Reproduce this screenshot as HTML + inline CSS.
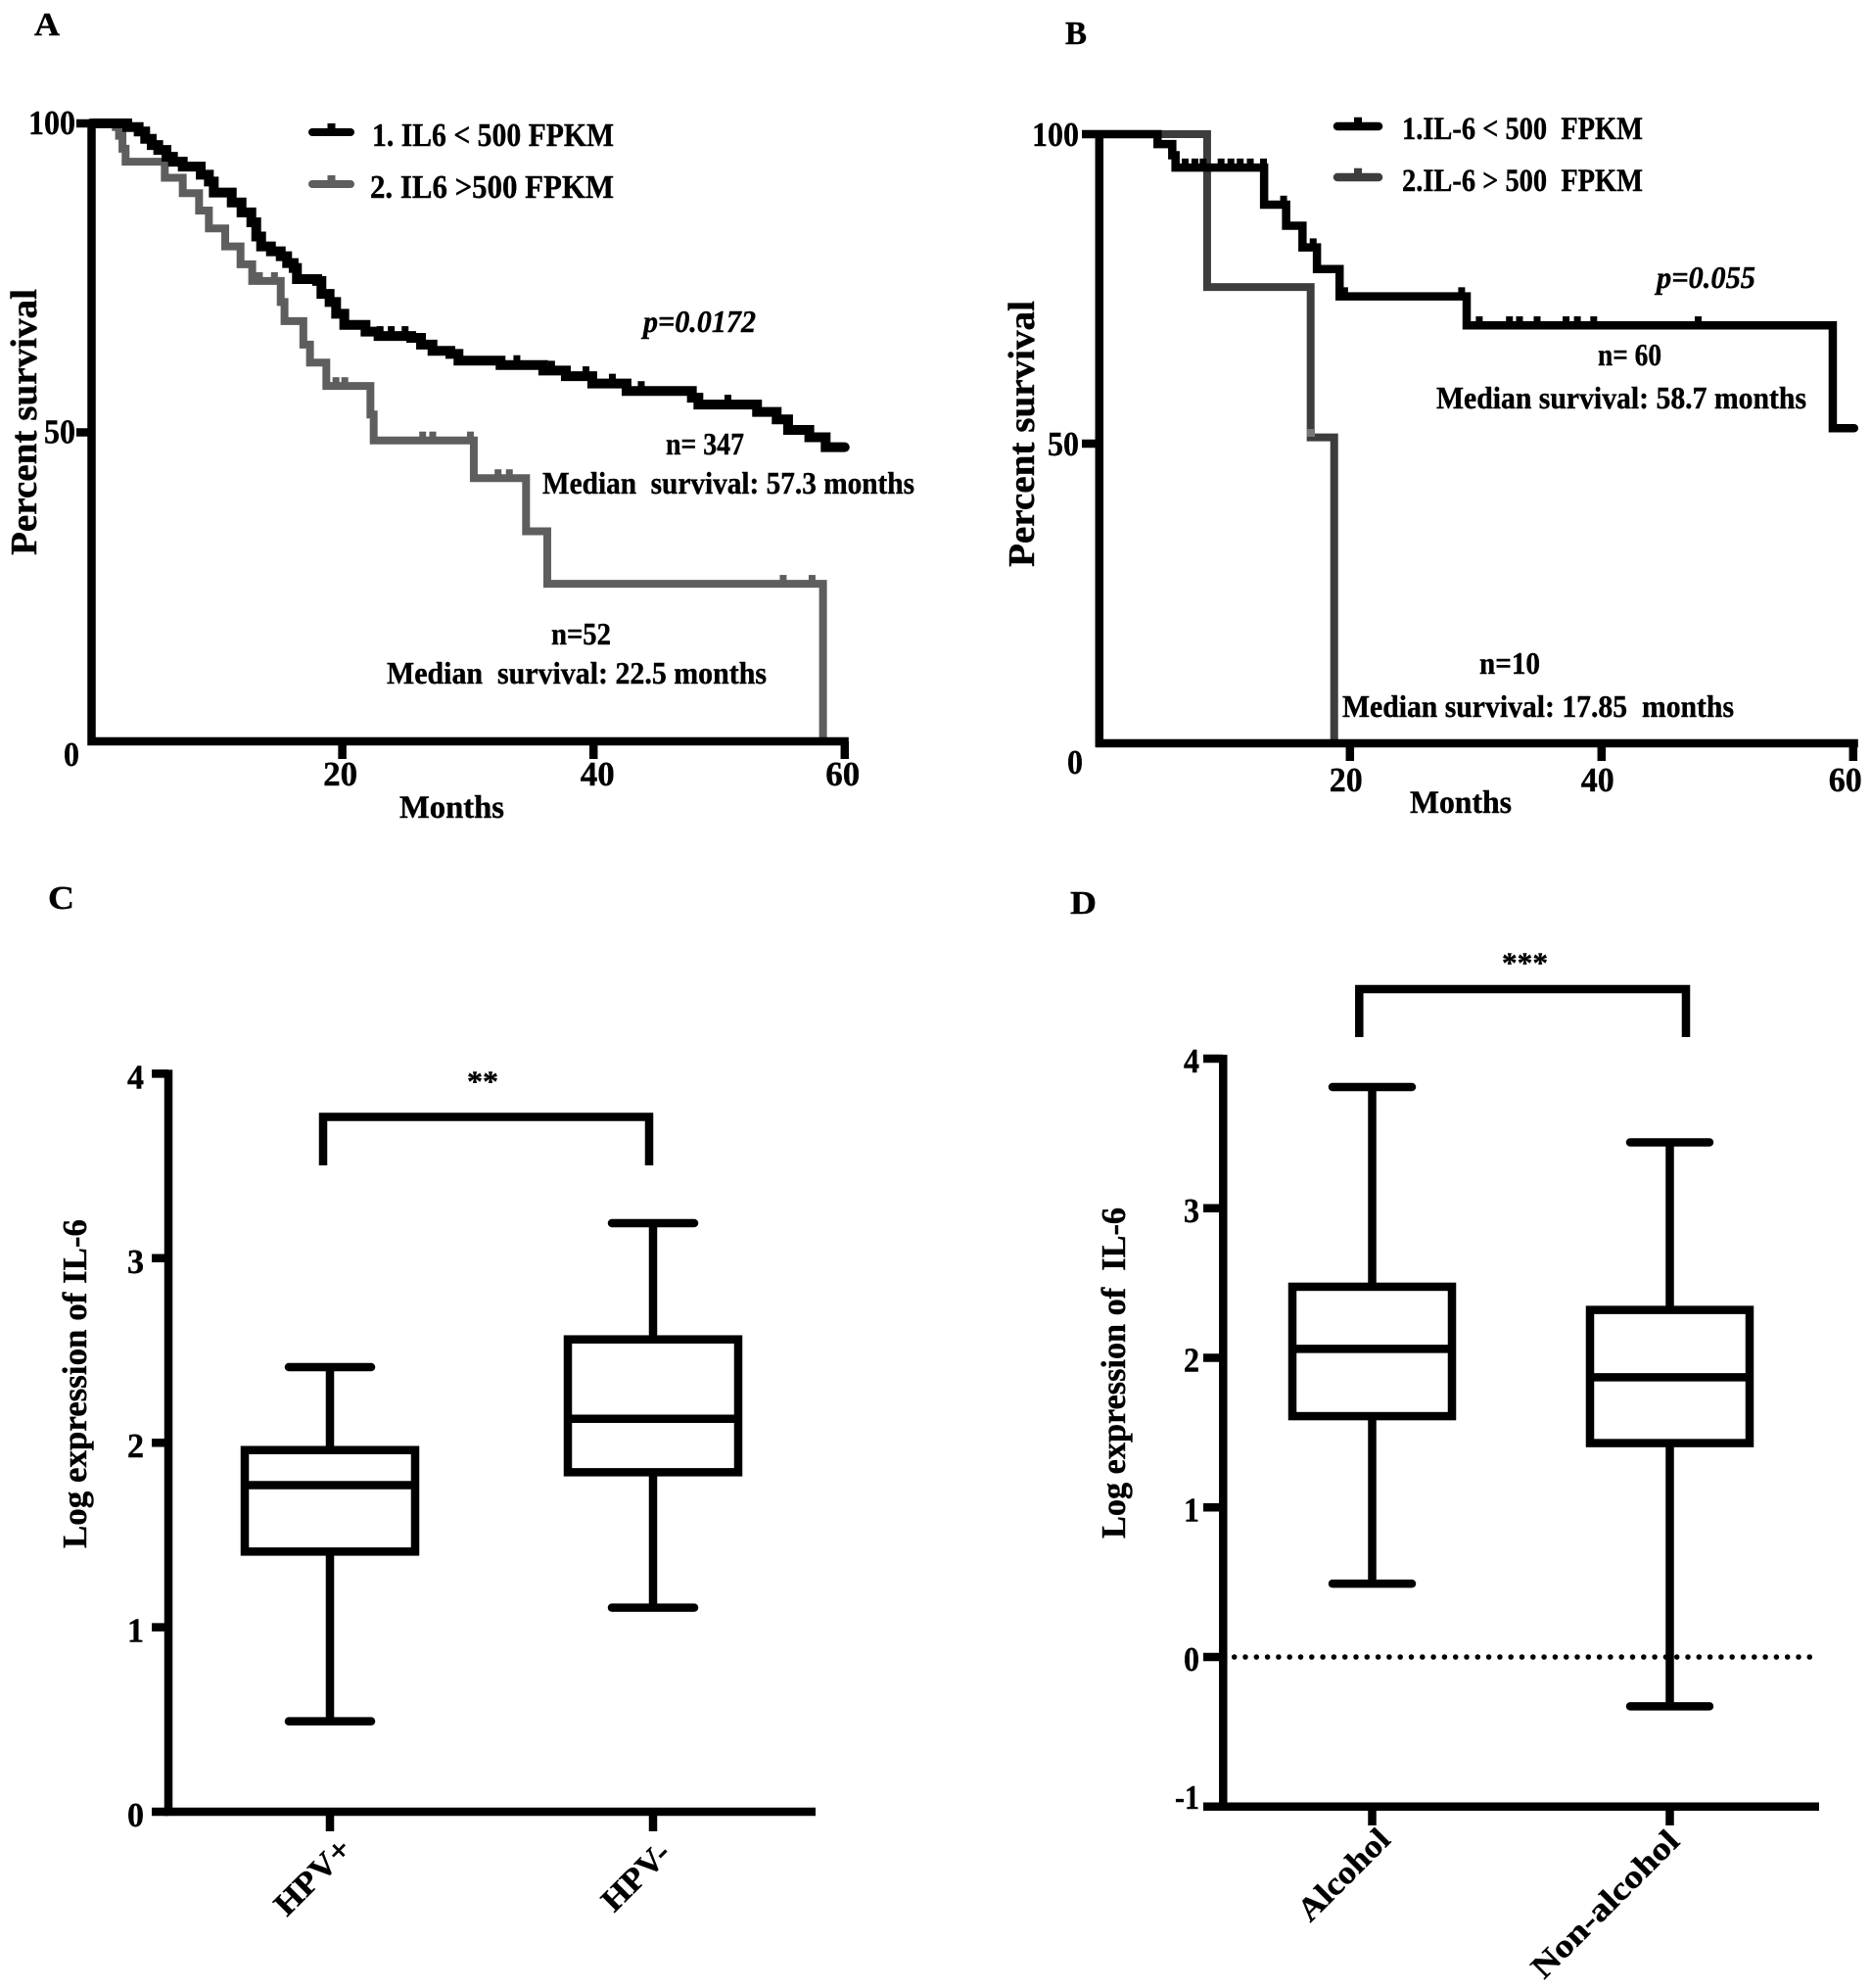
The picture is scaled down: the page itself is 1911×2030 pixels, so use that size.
<!DOCTYPE html>
<html lang="en">
<head>
<meta charset="utf-8">
<title>IL-6 survival and expression panels</title>
<style>
html,body{margin:0;padding:0;background:#fff;}
svg{display:block;}
text{font-family:"Liberation Serif",serif;font-weight:bold;fill:#000;stroke:#000;stroke-width:0.4px;white-space:pre;}
</style>
</head>
<body>
<svg id="fig" xmlns="http://www.w3.org/2000/svg" width="1911" height="2030" viewBox="0 0 1911 2030">
<rect x="0" y="0" width="1911" height="2030" fill="#fff"/>

<text x="35" y="36" font-size="34" textLength="26" lengthAdjust="spacingAndGlyphs">A</text>
<text x="1088" y="45" font-size="34" textLength="22" lengthAdjust="spacingAndGlyphs">B</text>
<text x="49" y="928" font-size="34" textLength="27" lengthAdjust="spacingAndGlyphs">C</text>
<text x="1093" y="933" font-size="34" textLength="27" lengthAdjust="spacingAndGlyphs">D</text>

<text transform="translate(37,567) rotate(-90)" font-size="38" textLength="272" lengthAdjust="spacingAndGlyphs">Percent survival</text>
<text x="408" y="835" font-size="33" textLength="107" lengthAdjust="spacingAndGlyphs">Months</text>
<text x="380" y="149" font-size="34" textLength="247" lengthAdjust="spacingAndGlyphs">1. IL6 &lt; 500 FPKM</text>
<text x="378" y="202" font-size="34" textLength="249" lengthAdjust="spacingAndGlyphs">2. IL6 &gt;500 FPKM</text>
<text x="657" y="339" font-size="32" font-style="italic" textLength="115" lengthAdjust="spacingAndGlyphs">p=0.0172</text>
<text x="680" y="464" font-size="32" textLength="80" lengthAdjust="spacingAndGlyphs">n= 347</text>
<text x="554" y="504" font-size="32" textLength="380" lengthAdjust="spacingAndGlyphs">Median  survival: 57.3 months</text>
<text x="563" y="658" font-size="32" textLength="61" lengthAdjust="spacingAndGlyphs">n=52</text>
<text x="395" y="698" font-size="32" textLength="388" lengthAdjust="spacingAndGlyphs">Median  survival: 22.5 months</text>

<text transform="translate(1056,579) rotate(-90)" font-size="38" textLength="272" lengthAdjust="spacingAndGlyphs">Percent survival</text>
<text x="1440" y="830" font-size="33" textLength="104" lengthAdjust="spacingAndGlyphs">Months</text>
<text x="1432" y="142" font-size="33" textLength="246" lengthAdjust="spacingAndGlyphs">1.IL-6 &lt; 500  FPKM</text>
<text x="1432" y="195" font-size="33" textLength="246" lengthAdjust="spacingAndGlyphs">2.IL-6 &gt; 500  FPKM</text>
<text x="1692" y="294" font-size="32" font-style="italic" textLength="101" lengthAdjust="spacingAndGlyphs">p=0.055</text>
<text x="1632" y="373" font-size="32" textLength="65" lengthAdjust="spacingAndGlyphs">n= 60</text>
<text x="1467" y="417" font-size="32" textLength="378" lengthAdjust="spacingAndGlyphs">Median survival: 58.7 months</text>
<text x="1511" y="688" font-size="32" textLength="62" lengthAdjust="spacingAndGlyphs">n=10</text>
<text x="1371" y="732" font-size="32" textLength="400" lengthAdjust="spacingAndGlyphs">Median survival: 17.85  months</text>

<text transform="translate(88,1581) rotate(-90)" font-size="35" textLength="336" lengthAdjust="spacingAndGlyphs">Log expression of IL-6</text>
<text transform="translate(327,1924) rotate(-45)" text-anchor="middle" font-size="33" textLength="96" lengthAdjust="spacingAndGlyphs">HPV+</text>
<text transform="translate(657,1924) rotate(-45)" text-anchor="middle" font-size="33" textLength="84" lengthAdjust="spacingAndGlyphs">HPV-</text>
<text x="477" y="1114" font-size="30" textLength="32" lengthAdjust="spacingAndGlyphs">**</text>

<text transform="translate(1149,1571) rotate(-90)" font-size="35" textLength="338" lengthAdjust="spacingAndGlyphs">Log expression of  IL-6</text>
<text transform="translate(1380,1922) rotate(-45)" text-anchor="middle" font-size="33" textLength="118" lengthAdjust="spacingAndGlyphs">Alcohol</text>
<text transform="translate(1647,1952) rotate(-45)" text-anchor="middle" font-size="33" textLength="198" lengthAdjust="spacingAndGlyphs">Non-alcohol</text>
<text x="1534" y="993" font-size="30" textLength="47" lengthAdjust="spacingAndGlyphs">***</text>
</svg>

<script>
// ---- Panel A data ----
const aLowMonths = [2.88,3.79,4.31,4.83,5.35,6.0,6.52,7.3,8.73,9.38,9.77,11.2,11.98,12.76,13.15,13.54,14.32,15.1,15.61,16.13,16.39,18.0,18.34,18.99,19.51,20.16,21.85,22.89,25.49,26.27,27.18,28.6,29.25,32.6,36.0,37.8,39.9,42.63,47.83,48.35,53.02,54.58,55.49,57.18,58.48];
const aLowSurvival = [99.4,98.7,97.5,96.5,95.7,94.6,93.8,93.0,91.7,90.6,88.8,87.2,85.6,84.0,81.7,80.1,79.3,78.5,77.4,76.6,74.8,74.5,72.4,71.1,69.2,67.4,66.3,65.6,65.3,64.2,63.2,62.7,61.6,60.9,60.0,59.1,57.9,56.7,55.6,54.5,53.3,52.1,50.4,49.2,47.6];
const aLowCensored = [23.0,23.9,25.0,33.9,36.66,39.4,41.5,43.8,50.7,54.6];
const aHighMonths = [1.97,2.23,2.5,2.75,5.87,7.3,8.6,9.38,10.68,11.9,12.83,15.1,15.4,16.9,17.43,18.73,22.24,22.5,30.47,34.63,36.32,58.27];
const aHighSurvival = [99.4,98.0,95.9,93.8,91.2,88.7,85.9,83.0,80.1,77.2,74.5,71.1,68.0,64.2,61.3,57.5,52.9,48.7,42.6,34.0,25.5,0.7];
const aHighCensored = [13.4,14.6,19.5,20.2,26.4,27.2,30.2,32.4,33.3,55.1,57.4];
const aXTicks = [20,40,60];
const aXTickLabels = ['20','40','60'];
const aYTicks = [100,50,0];
const aYTickLabels = ['100','50','0'];

// ---- Panel B data ----
const bLowMonths = [4.63,5.8,6.06,13.1,14.85,16.15,17.3,19.1,29.2,58.3];
const bLowSurvival = [98.4,96.6,94.6,88.6,85.2,81.7,78.2,73.8,69.1,52.5];
const bLowCensored = [6.83,7.6,8.25,9.68,10.46,11.2,12.0,13.05,14.65,17.0,19.5,28.8,30.2,32.6,33.4,34.8,37.1,38.0,39.3,47.6];
const bHighMonths = [8.57,16.8,18.67];
const bHighSurvival = [75.3,51.0,1.6];
const bXTicks = [20,40,60];
const bXTickLabels = ['20','40','60'];
const bYTicks = [100,50,0];
const bYTickLabels = ['100','50','0'];

// ---- Panel C data ----
const cCategories = ['HPV+','HPV-'];
const cWhiskerLow = [0.49,1.106];
const cQ1 = [1.41,1.84];
const cMedian = [1.77,2.13];
const cQ3 = [1.96,2.56];
const cWhiskerHigh = [2.41,3.19];
const cYTicks = [4,3,2,1,0];
const cYTickLabels = ['4','3','2','1','0'];

// ---- Panel D data ----
const dCategories = ['Alcohol','Non-alcohol'];
const dWhiskerLow = [0.49,-0.33];
const dQ1 = [1.61,1.43];
const dMedian = [2.06,1.87];
const dQ3 = [2.475,2.32];
const dWhiskerHigh = [3.81,3.44];
const dYTicks = [4,3,2,1,0,-1];
const dYTickLabels = ['4','3','2','1','0','-1'];
const dReferenceLine = [0];

// ---- Axis functions ----
const xA = m => 93 + m * 12.83;
const yA = p => 757 - p * 6.31;
const xB = m => 1122.8 + m * 12.85;
const yB = p => 769 - p * 6.32;
const xC = i => 337 + i * 330;
const yC = v => 1850 - v * 188.4;
const xD = i => 1401.5 + i * 304;
const yD = v => 1692 - v * 152.75;

const SW = 8.5;
const svg = document.getElementById('fig');
const NS = 'http://www.w3.org/2000/svg';

function mk(tag, props) {
  const el = document.createElementNS(NS, tag);
  for (const k in props) el.setAttribute(k, props[k]);
  svg.appendChild(el);
  return el;
}

function hline(x1, x2, y, w, color, cap, name) {
  const el = mk('line', {x1: x1, x2: x2, y1: y, y2: y, stroke: color, 'stroke-width': w, 'stroke-linecap': cap});
  
  
  return el;
}
function vline(x, y1, y2, w, color, name) {
  const el = mk('line', {x1: x, x2: x, y1: y1, y2: y2, stroke: color, 'stroke-width': w});
  
  
  return el;
}
function label(str, x, y, width, anchor, name) {
  const el = mk('text', {x: x, y: y, 'font-size': 35, 'text-anchor': anchor, textLength: width, lengthAdjust: 'spacingAndGlyphs'});
  el.textContent = str;
  
  
  return el;
}

function stepPath(months, survival, xs, ys, endMonth) {
  let d = 'M' + xs(0) + ' ' + ys(100);
  months.forEach((m, i) => {
    d += 'H' + xs(m) + 'V' + ys(survival[i]);
  });
  if (endMonth !== null) d += 'H' + xs(endMonth);
  return d;
}
function survivalAt(months, survival, m) {
  let s = 100;
  months.forEach((t, i) => { if (t <= m) s = survival[i]; });
  return s;
}
function drawCurve(months, survival, censored, xs, ys, endMonth, color, w, name) {
  const p = mk('path', {d: stepPath(months, survival, xs, ys, endMonth), fill: 'none', stroke: color, 'stroke-width': w, 'stroke-linejoin': 'miter', 'stroke-linecap': 'round'});
  
  
  censored.forEach(m => {
    const yy = ys(survivalAt(months, survival, m));
    const r = mk('rect', {x: xs(m) - 3.5, y: yy - w / 2 - 5, width: 7, height: 6, fill: color});
    
    
  });
}
function legendKey(x1, x2, y, color, w, name) {
  hline(x1, x2, y, w, color, 'round', name);
  const r = mk('rect', {x: (x1 + x2) / 2 - 4, y: y - w / 2 - 5, width: 8, height: 6, fill: color});
  
  
}
function drawBox(cx, ys, low, q1, med, q3, high, halfW, capHalf, name) {
  vline(cx, ys(high), ys(q3), SW, '#000', name + '-upper-whisker');
  vline(cx, ys(q1), ys(low), SW, '#000', name + '-lower-whisker');
  hline(cx - capHalf + 4, cx + capHalf - 4, ys(high), SW, '#000', 'round', name + '-upper-cap');
  hline(cx - capHalf + 4, cx + capHalf - 4, ys(low), SW, '#000', 'round', name + '-lower-cap');
  const b = mk('rect', {x: cx - halfW, y: ys(q3), width: halfW * 2, height: ys(q1) - ys(q3), fill: 'none', stroke: '#000', 'stroke-width': SW});
  
  
  hline(cx - halfW, cx + halfW, ys(med), SW, '#000', 'butt', name + '-median');
}
function bracket(x1, x2, top, bottom, name) {
  const el = mk('path', {d: 'M' + x1 + ' ' + bottom + 'V' + top + 'H' + x2 + 'V' + bottom, fill: 'none', stroke: '#000', 'stroke-width': SW});
  
  
}

// ---- Panel A ----
drawCurve(aHighMonths, aHighSurvival, aHighCensored, xA, yA, null, '#5e5e5e', 8, 'a-curve-high-il6');
drawCurve(aLowMonths, aLowSurvival, aLowCensored, xA, yA, 60, '#000', 10, 'a-curve-low-il6');
vline(93.5, 122, 761, SW, '#000', 'a-y-axis');
hline(89.5, xA(60) + 4, 757, SW, '#000', 'butt', 'a-x-axis');
aYTicks.forEach((v, i) => {
  if (v !== 0) hline(78, 93, yA(v), SW, '#000', 'butt', 'a-y-tick');
  const zero = v === 0;
  label(aYTickLabels[i], zero ? 81 : 77, yA(v) + (zero ? 25 : 11), aYTickLabels[i].length * 16, 'end', 'a-y-tick-label');
});
aXTicks.forEach((v, i) => {
  vline(xA(v), 757, 775, SW, '#000', 'a-x-tick');
  label(aXTickLabels[i], xA(v) + (v === 40 ? 4 : -2), 802, 35, 'middle', 'a-x-tick-label');
});
legendKey(319, 358, 135, '#000', 8, 'a-legend-key-1');
legendKey(319, 358, 188, '#5e5e5e', 8, 'a-legend-key-2');

// ---- Panel B ----
drawCurve(bHighMonths, bHighSurvival, [], xB, yB, null, '#3d3d3d', 8, 'b-curve-high-il6');
const bSquare = mk('rect', {x: 1335, y: 438, width: 8, height: 8, fill: '#777'});


drawCurve(bLowMonths, bLowSurvival, bLowCensored, xB, yB, 60, '#000', SW, 'b-curve-low-il6');
vline(1122.8, 133, 763, SW, '#000', 'b-y-axis');
hline(1119, xB(60) + 4, 759, SW, '#000', 'butt', 'b-x-axis');
bYTicks.forEach((v, i) => {
  if (v !== 0) hline(1105, 1122, yB(v), SW, '#000', 'butt', 'b-y-tick');
  const zero = v === 0;
  label(bYTickLabels[i], zero ? 1106 : 1102, zero ? 790 : yB(v) + 12, bYTickLabels[i].length * 16, 'end', 'b-y-tick-label');
});
bXTicks.forEach((v, i) => {
  vline(xB(v) - 1, 759, 777, SW, '#000', 'b-x-tick');
  label(bXTickLabels[i], xB(v) - (v === 60 ? 9 : 5), 808, 34, 'middle', 'b-x-tick-label');
});
legendKey(1366, 1408, 129, '#000', SW, 'b-legend-key-1');
legendKey(1366, 1408, 181, '#3d3d3d', SW, 'b-legend-key-2');

// ---- Panel C ----
vline(172, yC(4) - 4, yC(0) + 4, SW, '#000', 'c-y-axis');
hline(168, 833, yC(0), SW, '#000', 'butt', 'c-x-axis');
cYTicks.forEach((v, i) => {
  hline(155, 172, yC(v), SW, '#000', 'butt', 'c-y-tick');
  label(cYTickLabels[i], 147, yC(v) + 15, 17, 'end', 'c-y-tick-label');
});
cCategories.forEach((c, i) => {
  vline(xC(i), yC(0), 1870, SW, '#000', 'c-x-tick');
  drawBox(xC(i), yC, cWhiskerLow[i], cQ1[i], cMedian[i], cQ3[i], cWhiskerHigh[i], 87, 46, 'c-' + c.toLowerCase().replace('+', '-positive').replace(/-$/, '-negative'));
});
bracket(330, 663, 1140.5, 1190, 'c-significance-bracket');

// ---- Panel D ----
dReferenceLine.forEach(v => {
  const dots = mk('line', {x1: 1260.7, x2: 1852, y1: yD(v), y2: yD(v), stroke: '#000', 'stroke-width': 5.5, 'stroke-linecap': 'round', 'stroke-dasharray': '0 11.3'});
  
  
});
vline(1249.3, yD(4) - 4, yD(-1) + 4, SW, '#000', 'd-y-axis');
hline(1245, 1858, yD(-1), SW, '#000', 'butt', 'd-x-axis');
dYTicks.forEach((v, i) => {
  hline(1229, 1249, yD(v), SW, '#000', 'butt', 'd-y-tick');
  label(dYTickLabels[i], 1225, yD(v) + (v === -1 ? 2 : 14), dYTickLabels[i].length === 2 ? 25 : 16, 'end', 'd-y-tick-label');
});
dCategories.forEach((c, i) => {
  vline(xD(i), yD(-1), 1864, SW, '#000', 'd-x-tick');
  drawBox(xD(i), yD, dWhiskerLow[i], dQ1[i], dMedian[i], dQ3[i], dWhiskerHigh[i], 81.5, 44.5, 'd-' + c.toLowerCase());
});
bracket(1388.3, 1722, 1010, 1059, 'd-significance-bracket');
</script>
</body>
</html>
